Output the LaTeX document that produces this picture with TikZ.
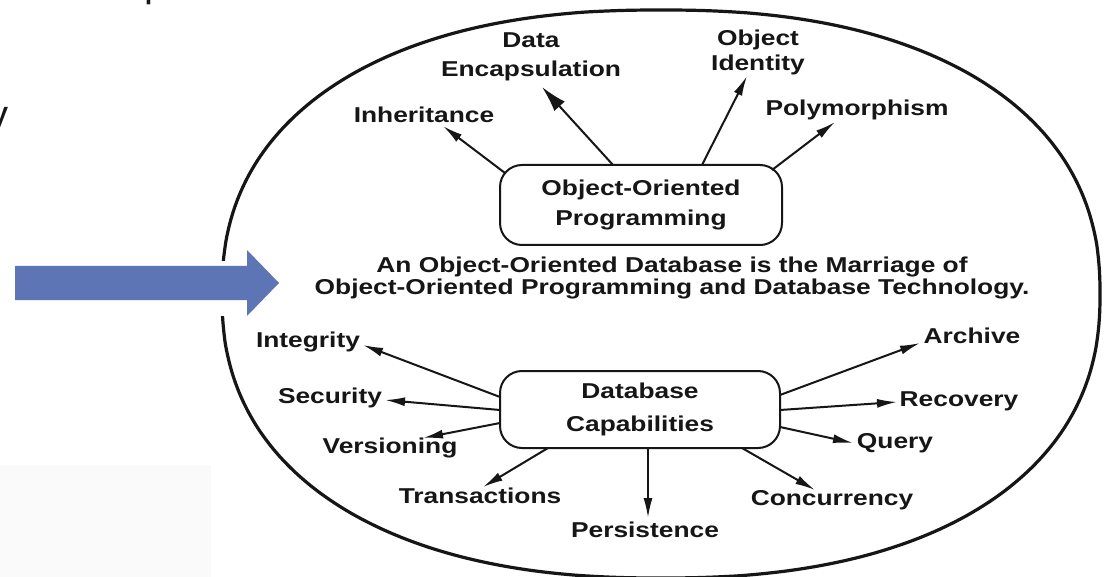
\documentclass[tikz,border=0pt]{standalone}
\usepackage{fontspec}
\usetikzlibrary{arrows.meta}
\newfontfamily\labfont{Liberation Sans}[FakeStretch=1.225]
\newfontfamily\slidefont{Liberation Sans}
\definecolor{arrowblue}{RGB}{94,117,181}
\definecolor{inkblack}{RGB}{22,22,22}
\begin{document}
\begin{tikzpicture}[x=1pt,y=-1pt,
  lab/.style={font=\labfont\bfseries\fontsize{21.5}{29}\selectfont, inner sep=0pt, outer sep=0pt, anchor=north, align=center, text=inkblack},
  lead/.style={font=\labfont\bfseries\fontsize{21.5}{#1}\selectfont},
  capbox/.style={draw=inkblack, line width=2pt, rounded corners=22pt, inner sep=0pt, outer sep=0pt, align=center, text=inkblack},
  conn/.style={draw=inkblack, line width=2pt, -{Latex[length=20pt,width=9pt]}},
  frag/.style={font=\slidefont\fontsize{40}{48}\selectfont, inner sep=0pt, outer sep=0pt, text=inkblack}
]
\useasboundingbox (0,0) rectangle (1113,577);
\fill[white] (0,0) rectangle (1113,577);
\fill[black!2] (0,465) rectangle (211,577);

% outer oval
\draw[line width=3.2pt, inkblack] plot[smooth cycle, domain=0.5:358.5, samples=180, variable=\t]
  ({661+439*sign(cos(\t))*pow(abs(cos(\t)),0.87)}, {294+284*sign(sin(\t))*pow(abs(sin(\t)),0.87)});

% white gap and blue arrow
\fill[white] (217,261) rectangle (237,316);
\fill[arrowblue] (15,266) -- (247,266) -- (247,250) -- (279,283) -- (247,316) -- (247,300) -- (15,300) -- cycle;

% slide text fragments
\node[frag, anchor=base east] (fragy) at (9,129) {y};
\node[frag, anchor=base west] (fragp) at (144,-3) {p};

% upper labels
\node[lab] (inh) at (424,107) {Inheritance};
\node[lab, lead=29] (data) at (531,33) {Data\\Encapsulation};
\node[lab, lead=25] (oid) at (758,30) {Object\\Identity};
\node[lab] (poly) at (857,100) {Polymorphism};
\node[capbox, lead=30, minimum width=282pt, minimum height=80pt] (oop) at (641,205) {Object-Oriented\\Programming};

% central statement
\node[lab, lead=21.5] (marriage) at (672,257) {An Object-Oriented Database is the Marriage of\\Object-Oriented Programming and Database Technology.};

% lower labels
\node[capbox, lead=33, minimum width=280pt, minimum height=77pt] (db) at (640,409.5) {Database\\Capabilities};
\node[lab] (integ) at (308,332) {Integrity};
\node[lab] (sec) at (330,388) {Security};
\node[lab] (ver) at (390,438) {Versioning};
\node[lab] (trans) at (480,488) {Transactions};
\node[lab] (pers) at (645,522) {Persistence};
\node[lab] (conc) at (832,490) {Concurrency};
\node[lab] (query) at (895,433) {Query};
\node[lab] (rec) at (959,392) {Recovery};
\node[lab] (arch) at (972,328) {Archive};

% upper connectors
\draw[conn] ([shift={(5,8)}]oop.north west) -- ([shift={(19,19)}]inh.north);
\draw[conn, -{Latex[length=26pt,width=14pt]}] ([shift={(113,0)}]oop.north west) -- ([shift={(11,54)}]data.north);
\draw[conn] ([shift={(202,0)}]oop.north west) -- ([shift={(-11,46)}]oid.north);
\draw[conn] ([shift={(-10,5)}]oop.north east) -- ([shift={(-22,22)}]poly.north);

% lower connectors
\draw[conn] ([shift={(0,26)}]db.north west) -- ([shift={(55,13)}]integ.north);
\draw[conn] ([shift={(0,39)}]db.north west) -- ([shift={(55,12)}]sec.north);
\draw[conn] ([shift={(0,52)}]db.north west) -- ([shift={(33,0)}]ver.north);
\draw[conn] ([shift={(48,0)}]db.south west) -- ([shift={(3,-1)}]trans.north);
\draw[conn] ([shift={(8,0)}]db.south) -- ([shift={(3,-4)}]pers.north);
\draw[conn] ([shift={(-38,0)}]db.south east) -- ([shift={(-17,0)}]conc.north);
\draw[conn] ([shift={(0,56)}]db.north east) -- ([shift={(-42,10)}]query.north);
\draw[conn] ([shift={(0,39)}]db.north east) -- ([shift={(-62,10)}]rec.north);
\draw[conn] ([shift={(0,24)}]db.north east) -- ([shift={(-52,15)}]arch.north);
\end{tikzpicture}
\end{document}
